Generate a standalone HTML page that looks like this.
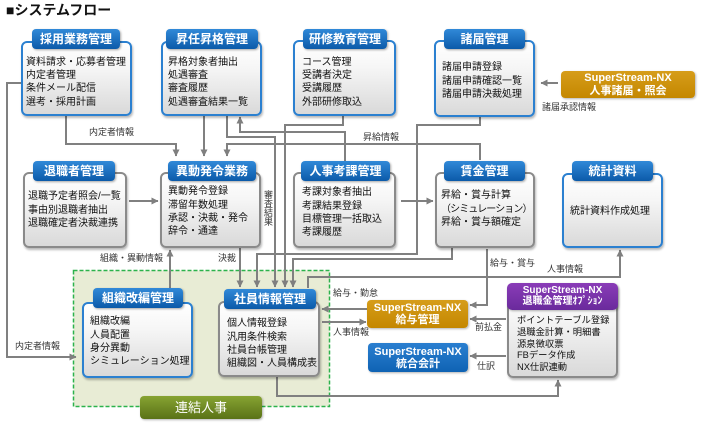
<!DOCTYPE html>
<html><head><meta charset="utf-8">
<style>
*{margin:0;padding:0;box-sizing:border-box}
html,body{width:702px;height:425px;background:#fff;overflow:hidden}
body{position:relative;font-family:"Liberation Sans","Noto Sans CJK JP",sans-serif;color:#111}
.box{position:absolute;border:2px solid #8a8a8a;border-radius:6px;background:linear-gradient(#ffffff 0%,#f6f6f6 35%,#d9d9d9 100%);box-shadow:1px 2px 2px rgba(0,0,0,.28)}
.box.b{border-color:#2b80d0}
.hd{position:absolute;height:20px;line-height:20px;border-radius:4px;background:linear-gradient(#3189d8,#0b5aa9);color:#fff;font-weight:bold;font-size:12px;text-align:center;box-shadow:1px 1px 2px rgba(0,0,0,.35);white-space:nowrap;font-family:"Liberation Sans","Noto Sans CJK JP",sans-serif}
.tx{position:absolute;font-size:10px;line-height:13.3px;white-space:nowrap;color:#111}
.lb{position:absolute;font-size:9px;line-height:10px;white-space:nowrap;color:#333}
.ss{position:absolute;color:#fff;font-weight:bold;text-align:center;border-radius:4px;white-space:nowrap;box-shadow:1px 1px 2px rgba(0,0,0,.3)}
.gold{background:linear-gradient(#d69d1a,#c48700)}
.blu{background:linear-gradient(#2a7fd0,#0f63b4)}
</style></head>
<body>
<div style="position:absolute;left:6px;top:2px;font-size:14px;font-weight:bold;line-height:17px;white-space:nowrap;color:#111">■システムフロー</div>

<svg width="702" height="425" style="position:absolute;left:0;top:0">
<defs>
<marker id="ar" markerWidth="7" markerHeight="7" refX="6.5" refY="3.5" orient="auto" markerUnits="userSpaceOnUse"><path d="M0,0 L7,3.5 L0,7 z" fill="#7f7f7f"/></marker>
</defs>
<rect x="73.5" y="270.5" width="256" height="136" fill="#e8ecd5" stroke="#2cb24c" stroke-width="1.5" stroke-dasharray="4 2"/>
<g fill="none" stroke="#808080" stroke-width="2">
<polyline points="66,116 66,144 176,144 176,156" marker-end="url(#ar)"/>
<polyline points="204,116 204,156" marker-end="url(#ar)"/>
<polyline points="480,160 480,144 227,144 227,156" marker-end="url(#ar)"/>
<polyline points="227,116 227,137 275,137 275,287" marker-end="url(#ar)"/>
<polyline points="345,161 345,132 240,132 240,117" marker-end="url(#ar)"/>
<polyline points="343,116 343,125 285,125 285,287" marker-end="url(#ar)"/>
<polyline points="480,117 480,125 417,125 417,254 257,254 257,287" marker-end="url(#ar)"/>
<polyline points="452,248 452,259 293,259 293,287" marker-end="url(#ar)"/>
<polyline points="240,248 240,287" marker-end="url(#ar)"/>
<polyline points="170,288 170,250" marker-end="url(#ar)"/>
<polyline points="129,201 158,201" marker-end="url(#ar)"/>
<polyline points="401,201 433,201" marker-end="url(#ar)"/>
<polyline points="21,83 7,83 7,357 76,357" marker-end="url(#ar)"/>
<polyline points="558,83 541,83" marker-end="url(#ar)"/>
<polyline points="367,309 322,309" marker-end="url(#ar)"/>
<polyline points="322,322 366,322" marker-end="url(#ar)"/>
<polyline points="308,288 308,277 620,277 620,250" marker-end="url(#ar)"/>
<polyline points="487,249 487,305 470,305" marker-end="url(#ar)"/>
<polyline points="506,319 470,319" marker-end="url(#ar)"/>
<polyline points="506,356 470,356" marker-end="url(#ar)"/>
<polyline points="277,377 277,396 558,396 558,380" marker-end="url(#ar)"/>
</g>
</svg>

<!-- connector labels -->
<div class="lb" style="left:89px;top:127px">内定者情報</div>
<div class="lb" style="left:363px;top:132px">昇給情報</div>
<div class="lb" style="left:263px;top:190px;writing-mode:vertical-rl;line-height:9px">審査結果</div>
<div class="lb" style="left:100px;top:253px">組織・異動情報</div>
<div class="lb" style="left:218px;top:253px">決裁</div>
<div class="lb" style="left:15px;top:341px">内定者情報</div>
<div class="lb" style="left:542px;top:102px">諸届承認情報</div>
<div class="lb" style="left:490px;top:258px">給与・賞与</div>
<div class="lb" style="left:547px;top:264px">人事情報</div>
<div class="lb" style="left:333px;top:288px">給与・勤怠</div>
<div class="lb" style="left:333px;top:327px">人事情報</div>
<div class="lb" style="left:475px;top:322px">前払金</div>
<div class="lb" style="left:477px;top:361px">仕訳</div>

<!-- row 1 -->
<div class="box b" style="left:21px;top:41px;width:111px;height:75px"></div>
<div class="hd" style="left:32px;top:29px;width:88px">採用業務管理</div>
<div class="tx" style="left:26px;top:55.7px">資料請求・応募者管理<br>内定者管理<br>条件メール配信<br>選考・採用計画</div>

<div class="box b" style="left:161px;top:41px;width:101px;height:75px"></div>
<div class="hd" style="left:166px;top:29px;width:92px">昇任昇格管理</div>
<div class="tx" style="left:168px;top:55.7px">昇格対象者抽出<br>処遇審査<br>審査履歴<br>処遇審査結果一覧</div>

<div class="box b" style="left:293px;top:40px;width:103px;height:76px"></div>
<div class="hd" style="left:303px;top:29px;width:84px">研修教育管理</div>
<div class="tx" style="left:302px;top:55.7px">コース管理<br>受講者決定<br>受講履歴<br>外部研修取込</div>

<div class="box b" style="left:434px;top:40px;width:101px;height:77px"></div>
<div class="hd" style="left:444px;top:29px;width:81px">諸届管理</div>
<div class="tx" style="left:442px;top:61.4px">諸届申請登録<br>諸届申請確認一覧<br>諸届申請決裁処理</div>

<div class="ss gold" style="left:561px;top:71px;width:134px;height:27px;font-size:11px;line-height:13px;padding-top:0.5px">SuperStream-NX<br>人事諸届・照会</div>

<!-- row 2 -->
<div class="box" style="left:23px;top:172px;width:104px;height:76px"></div>
<div class="hd" style="left:33px;top:161px;width:82px">退職者管理</div>
<div class="tx" style="left:28px;top:190.4px">退職予定者照会/一覧<br>事由別退職者抽出<br>退職確定者決裁連携</div>

<div class="box" style="left:160px;top:172px;width:101px;height:76px"></div>
<div class="hd" style="left:168px;top:161px;width:88px">異動発令業務</div>
<div class="tx" style="left:168px;top:185.4px">異動発令登録<br>滞留年数処理<br>承認・決裁・発令<br>辞令・通達</div>

<div class="box" style="left:293px;top:172px;width:103px;height:76px"></div>
<div class="hd" style="left:301px;top:161px;width:89px">人事考課管理</div>
<div class="tx" style="left:302px;top:186.4px">考課対象者抽出<br>考課結果登録<br>目標管理一括取込<br>考課履歴</div>

<div class="box" style="left:435px;top:172px;width:100px;height:76px"></div>
<div class="hd" style="left:444px;top:161px;width:81px">賃金管理</div>
<div class="tx" style="left:441px;top:189.4px">昇給・賞与計算<br><span style="letter-spacing:-0.9px">（シミュレーション）</span><br>昇給・賞与額確定</div>

<div class="box b" style="left:562px;top:173px;width:101px;height:75px"></div>
<div class="hd" style="left:572px;top:161px;width:81px">統計資料</div>
<div class="tx" style="left:570px;top:205.4px">統計資料作成処理</div>

<!-- row 3 -->
<div class="box b" style="left:82px;top:302px;width:111px;height:76px"></div>
<div class="hd" style="left:93px;top:288px;width:90px">組織改編管理</div>
<div class="tx" style="left:90px;top:315.4px">組織改編<br>人員配置<br>身分異動<br>シミュレーション処理</div>

<div class="box" style="left:218px;top:301px;width:102px;height:76px"></div>
<div class="hd" style="left:224px;top:289px;width:92px">社員情報管理</div>
<div class="tx" style="left:227px;top:317.4px">個人情報登録<br>汎用条件検索<br>社員台帳管理<br>組織図・人員構成表</div>

<div class="ss gold" style="left:367px;top:300px;width:101px;height:28px;font-size:11px;line-height:12px;padding-top:2px">SuperStream-NX<br>給与管理</div>
<div class="ss blu" style="left:368px;top:343px;width:100px;height:29px;font-size:11px;line-height:12px;padding-top:2.5px">SuperStream-NX<br>統合会計</div>

<div class="box" style="left:507px;top:283px;width:111px;height:95px"></div>
<div class="ss" style="left:507px;top:283px;width:111px;height:27px;background:linear-gradient(#8a3cb8,#6a2a9c);font-size:10px;line-height:11px;padding-top:2px;border-radius:5px">SuperStream-NX<br>退職金管理ｵﾌﾟｼｮﾝ</div>
<div class="tx" style="left:517px;top:315.2px;font-size:9.3px;line-height:11.7px">ポイントテーブル登録<br>退職金計算・明細書<br>源泉徴収票<br>FBデータ作成<br>NX仕訳連動</div>

<div class="ss" style="left:140px;top:396px;width:122px;height:23px;background:linear-gradient(#87a332,#5a7217);font-size:13px;line-height:23px;font-weight:normal">連結人事</div>
</body></html>
